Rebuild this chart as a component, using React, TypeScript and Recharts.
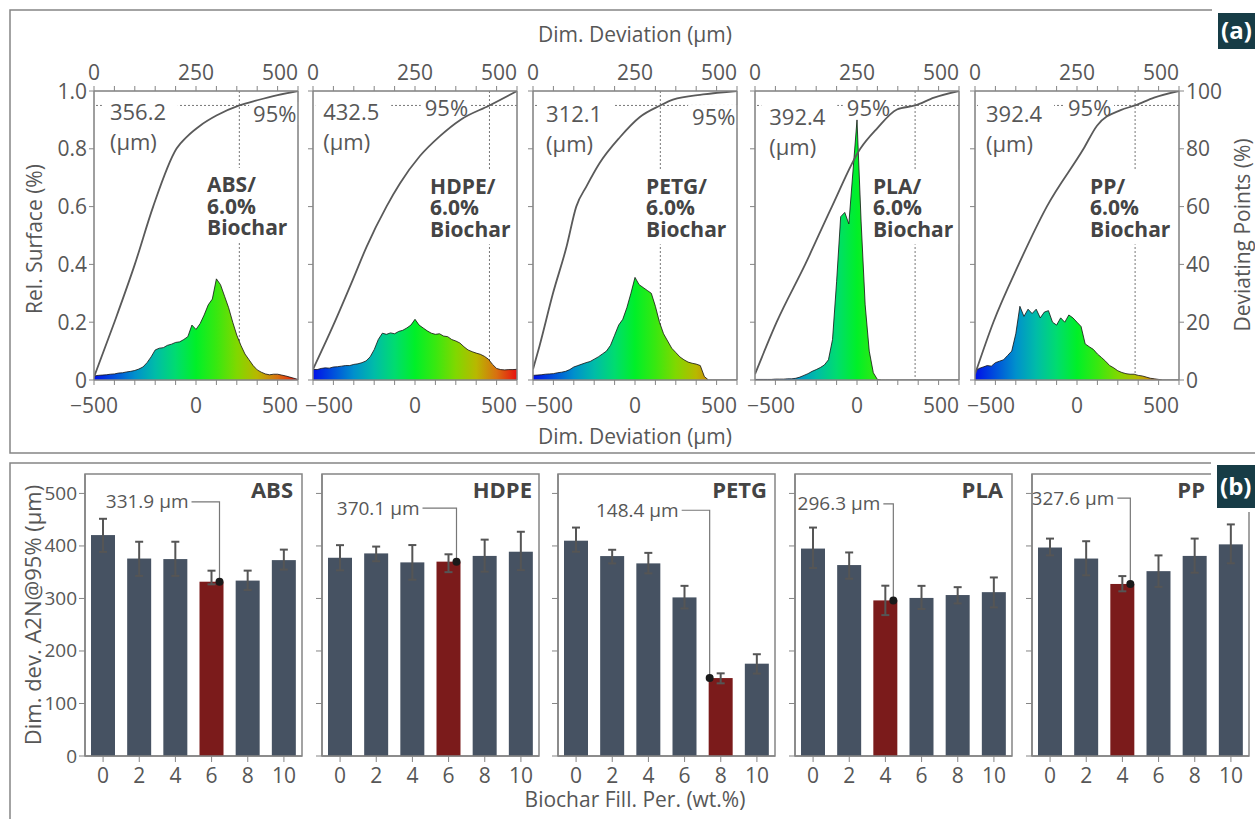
import React from "react";
import {
  Area,
  Bar,
  BarChart,
  CartesianGrid,
  ComposedChart,
  ErrorBar,
  Line,
  ReferenceArea,
  ReferenceDot,
  ReferenceLine,
  XAxis,
  YAxis,
} from "recharts";

const FONT = '"Open Sans", "Noto Sans", sans-serif';
const INK = "#575757";
const DARK = "#444";
const FRAME = "#858585";
const GRID = "#dadada";
const SLATE = "#465262";
const RED = "#7b1b1b";
const TAG_BG = "#173c46";

const MATERIALS = ["ABS", "HDPE", "PETG", "PLA", "PP"];
const BIOCHAR_SHARE = "6.0%";

// histogram bins (µm)
const DEV_BINS = [
  -500, -480, -460, -440, -420, -400, -380, -360, -340, -320, -300, -280, -260, -240, -220, -200, -180,
  -160, -140, -120, -100, -80, -60, -40, -20, 0, 20, 40, 60, 80, 100, 120, 140, 160, 180, 200, 220, 240,
  260, 280, 300, 320, 340, 360, 380, 400, 420, 440, 460, 480, 500,
];

// relative surface per bin (6.0% biochar)
const ABS_SURFACE = [
  0.014, 0.016, 0.017, 0.018, 0.02, 0.021, 0.024, 0.025, 0.028, 0.03, 0.033, 0.038, 0.045, 0.06, 0.08,
  0.104, 0.11, 0.112, 0.12, 0.124, 0.13, 0.132, 0.14, 0.15, 0.19, 0.175, 0.195, 0.225, 0.26, 0.28, 0.35,
  0.33, 0.29, 0.25, 0.2, 0.155, 0.12, 0.09, 0.07, 0.05, 0.035, 0.027, 0.021, 0.018, 0.02, 0.02, 0.017,
  0.014, 0.01, 0.006, 0.002,
];
const HDPE_SURFACE = [
  0.037, 0.036, 0.04, 0.042, 0.041, 0.045, 0.046, 0.048, 0.05, 0.05, 0.054, 0.056, 0.06, 0.066, 0.08,
  0.105, 0.14, 0.162, 0.158, 0.163, 0.16, 0.168, 0.172, 0.18, 0.19, 0.21, 0.19, 0.18, 0.17, 0.162, 0.158,
  0.16, 0.152, 0.15, 0.14, 0.135, 0.128, 0.115, 0.104, 0.098, 0.093, 0.089, 0.082, 0.072, 0.054, 0.04,
  0.036, 0.035, 0.036, 0.036, 0.037,
];
const PETG_SURFACE = [
  0.016, 0.017, 0.018, 0.02, 0.021, 0.022, 0.025, 0.027, 0.03, 0.036, 0.045, 0.05, 0.055, 0.06, 0.064,
  0.072, 0.08, 0.09, 0.1, 0.12, 0.155, 0.19, 0.21, 0.25, 0.3, 0.355, 0.33, 0.32, 0.31, 0.3, 0.255, 0.2,
  0.16, 0.135, 0.11, 0.095, 0.08, 0.07, 0.062, 0.058, 0.055, 0.05, 0.012, 0, 0, 0, 0, 0, 0, 0, 0,
];
const PLA_SURFACE = [
  0.002, 0.002, 0.002, 0.002, 0.002, 0.003, 0.003, 0.003, 0.004, 0.004, 0.006, 0.01, 0.016, 0.022, 0.03,
  0.036, 0.043, 0.052, 0.07, 0.14, 0.34, 0.565, 0.58, 0.54, 0.72, 0.9, 0.55, 0.26, 0.1, 0.025, 0.002, 0,
  0, 0, 0, 0, 0, 0, 0, 0, 0, 0, 0, 0, 0, 0, 0, 0, 0, 0, 0,
];
const PP_SURFACE = [
  0.03, 0.04, 0.045, 0.05, 0.048, 0.06, 0.065, 0.07, 0.085, 0.1, 0.16, 0.255, 0.22, 0.245, 0.23, 0.245,
  0.215, 0.235, 0.24, 0.2, 0.19, 0.215, 0.2, 0.225, 0.215, 0.2, 0.185, 0.125, 0.115, 0.106, 0.09, 0.078,
  0.065, 0.05, 0.042, 0.032, 0.026, 0.022, 0.02, 0.02, 0.016, 0.014, 0.01, 0.006, 0.004, 0.002, 0, 0, 0,
  0, 0,
];

// cumulative share of deviating points over |deviation|
const ABS_CUM_DEV = [0, 50, 100, 145, 202, 230, 260, 300, 356.2, 400, 450, 500];
const ABS_CUM_PCT = [1, 20, 40, 60, 80, 84.5, 88, 91.5, 95, 96.8, 98.6, 100];
const HDPE_CUM_DEV = [0, 49, 98, 131, 180, 213, 262, 311, 361, 432.5, 500];
const HDPE_CUM_PCT = [3.7, 18.7, 34.8, 46, 60, 68, 77.5, 84.4, 90, 95, 100];
const PETG_CUM_DEV = [0, 16, 49, 82, 106, 131, 163, 213, 262, 312.1, 343, 417, 500];
const PETG_CUM_PCT = [3.7, 11.8, 30, 46, 60, 67, 75, 84, 91, 95, 97, 98.8, 100];
const PLA_CUM_DEV = [0, 53, 123, 188.5, 258, 299, 348, 392.4, 439, 500];
const PLA_CUM_PCT = [2, 20, 40, 60, 80, 87, 93.6, 95, 97.7, 100];
const PP_CUM_DEV = [0, 45, 107, 176, 266, 299, 357, 392.4, 439, 500];
const PP_CUM_PCT = [2, 20, 40, 60, 80, 88, 93.4, 95, 97.7, 100];

const P95_DEV = [356.2, 432.5, 312.1, 392.4, 392.4];

// A2N deviation at 95% vs biochar filling
const FILL_LEVELS = ["0", "2", "4", "6", "8", "10"];
const ABS_DEV95 = [420.7, 376, 375, 331.9, 334, 373];
const ABS_ERR_LOW = [32, 33, 32, 5, 18, 18];
const ABS_ERR_HIGH = [31, 32, 33, 21, 19, 20];
const HDPE_DEV95 = [377.5, 385.8, 368.7, 370.1, 381, 389];
const HDPE_ERR_LOW = [24, 15, 33, 20, 30, 35];
const HDPE_ERR_HIGH = [24, 13, 33, 14, 31, 38];
const PETG_DEV95 = [410, 380.7, 366.8, 302, 148.4, 175.8];
const PETG_ERR_LOW = [21, 14, 19, 21, 10, 19];
const PETG_ERR_HIGH = [25, 12, 20, 22, 9, 18];
const PLA_DEV95 = [395, 363.6, 296.3, 301, 306.5, 312];
const PLA_ERR_LOW = [37, 26, 28, 21, 16, 29];
const PLA_ERR_HIGH = [40, 24, 28, 23, 15, 28];
const PP_DEV95 = [397, 376, 327.6, 352, 381, 403];
const PP_ERR_LOW = [15, 32, 14, 30, 32, 36];
const PP_ERR_HIGH = [17, 33, 15, 30, 33, 38];
const BEST_FILL = [3, 3, 4, 2, 2];

const TOP_TICKS = [0, 50, 100, 150, 200, 250, 300, 350, 400, 450, 500];
const BOTTOM_TICKS = [-500, -400, -300, -200, -100, 0, 100, 200, 300, 400, 500];
const SURF_TICKS = [0, 0.2, 0.4, 0.6, 0.8, 1];
const POINT_TICKS = [0, 20, 40, 60, 80, 100];
const DIM_TICKS = [0, 100, 200, 300, 400, 500];

const SURFACE = [ABS_SURFACE, HDPE_SURFACE, PETG_SURFACE, PLA_SURFACE, PP_SURFACE];
const CUM_DEV = [ABS_CUM_DEV, HDPE_CUM_DEV, PETG_CUM_DEV, PLA_CUM_DEV, PP_CUM_DEV];
const CUM_PCT = [ABS_CUM_PCT, HDPE_CUM_PCT, PETG_CUM_PCT, PLA_CUM_PCT, PP_CUM_PCT];
const DEV95 = [ABS_DEV95, HDPE_DEV95, PETG_DEV95, PLA_DEV95, PP_DEV95];
const ERR_LOW = [ABS_ERR_LOW, HDPE_ERR_LOW, PETG_ERR_LOW, PLA_ERR_LOW, PP_ERR_LOW];
const ERR_HIGH = [ABS_ERR_HIGH, HDPE_ERR_HIGH, PETG_ERR_HIGH, PLA_ERR_HIGH, PP_ERR_HIGH];

// layout
const SURF_LEFT = [94, 313, 533, 755, 975];
const SURF_TOP = 91;
const SURF_W = 204;
const SURF_H = 289;
const TOP_AXIS_H = 40;
const BOTTOM_AXIS_H = 45;
const LEFT_AXIS_W = 40;
const RIGHT_AXIS_W = 50;
// tag anchors in (top axis µm, right axis %)
const VALUE_TAG = [[39, 92.4], [25, 92.4], [32, 91.7], [35, 91], [27, 91.7]];
const PCT_TAG = [[390, 92], [274, 94.1], [390, 91], [225, 94.1], [228, 94.1]];
const NAME_TAG = [[277, 67.5], [287, 67], [277, 67], [289, 67], [282, 67]];

const FILL_LEFT = [85, 322, 558, 795, 1032];
const FILL_TOP = 474;
const FILL_W = 217;
const FILL_H = 282;
const DIM_MAX = 537;
// distance of the panel title's right end from the plot's right edge
const TITLE_INSET = [9, 7, 8, 9, 44];
const CALLOUT = [
  { level: 484, gap: 28, side: "right" },
  { level: 472, gap: 34, side: "right" },
  { level: 468, gap: 28, side: "left" },
  { level: 480, gap: 10, side: "right" },
  { level: 491, gap: 13, side: "right" },
];

const txt = { fontFamily: FONT, fill: INK };
const fmtDev = (v: number) => (v < 0 ? `\u2212${Math.abs(v)}` : `${v}`);

const topTick = (p: any) => {
  const v = p.payload.value;
  if (v % 250 !== 0) return <g />;
  return (
    <text x={p.x} y={p.y} dy={-4} textAnchor={v === 500 ? "end" : "middle"} fontSize={21} {...txt}>
      {v}
    </text>
  );
};

const bottomTick = (first: boolean) => (p: any) => {
  const v = p.payload.value;
  if (v % 500 !== 0) return <g />;
  let anchor = "middle";
  let x = p.x;
  if (v === 500) anchor = "end";
  if (v === -500 && !first) {
    anchor = "start";
    x = p.x - 8;
  }
  return (
    <text x={x} y={p.y} dy={26} textAnchor={anchor} fontSize={21} {...txt}>
      {fmtDev(v)}
    </text>
  );
};

const surfTick = (p: any) => (
  <text x={p.x} y={p.y} dy={7.5} textAnchor="end" fontSize={21} {...txt}>
    {p.payload.value === 0 ? "0" : p.payload.value.toFixed(1)}
  </text>
);

const pointTick = (p: any) => (
  <text x={p.x} y={p.y} dy={7.5} textAnchor="start" fontSize={21} {...txt}>
    {p.payload.value}
  </text>
);

const noTick = () => <g />;

const valueTag = (value: number) => (p: any) => (
  <g>
    <rect x={p.cx - 8} y={p.cy - 17} width={76} height={64} fill="#fff" />
    <text x={p.cx} y={p.cy} dy={7.5} fontSize={22} {...txt}>
      {value.toFixed(1)}
    </text>
    <text x={p.cx} y={p.cy + 30} dy={7.5} fontSize={22} {...txt}>
      (µm)
    </text>
  </g>
);

const pctTag = (p: any) => (
  <g>
    <rect x={p.cx - 4} y={p.cy - 12} width={50} height={23} fill="#fff" />
    <text x={p.cx} y={p.cy} dy={7.5} fontSize={22} {...txt}>
      95%
    </text>
  </g>
);

const nameTag = (name: string) => (p: any) => (
  <g>
    <rect x={p.cx - 6} y={p.cy - 17} width={92} height={75} fill="#fff" />
    {[`${name}/`, BIOCHAR_SHARE, "Biochar"].map((line, k) => (
      <text
        key={k}
        x={p.cx}
        y={p.cy + k * 21.5}
        dy={7.5}
        fontSize={21}
        fontWeight={700}
        fontFamily={FONT}
        fill={DARK}
      >
        {line}
      </text>
    ))}
  </g>
);

// the four axes of a surface panel; the hidden copy keeps the plot box identical
function surfAxes(visible: boolean, first: boolean, last: boolean) {
  const line = visible ? { stroke: FRAME, strokeWidth: 1.5 } : false;
  const tickLine = visible ? { stroke: FRAME } : false;
  return [
    <XAxis
      key="xb"
      xAxisId="bottom"
      type="number"
      dataKey="x"
      domain={[-500, 500]}
      allowDataOverflow
      ticks={BOTTOM_TICKS}
      interval={0}
      height={BOTTOM_AXIS_H}
      tickSize={5}
      axisLine={line}
      tickLine={tickLine}
      tick={visible ? bottomTick(first) : false}
    />,
    <XAxis
      key="xt"
      xAxisId="top"
      orientation="top"
      type="number"
      dataKey="d"
      domain={[0, 500]}
      allowDataOverflow
      ticks={TOP_TICKS}
      interval={0}
      height={TOP_AXIS_H}
      tickSize={5}
      axisLine={line}
      tickLine={tickLine}
      tick={visible ? topTick : false}
    />,
    <YAxis
      key="yl"
      yAxisId="left"
      type="number"
      domain={[0, 1]}
      allowDataOverflow
      ticks={SURF_TICKS}
      interval={0}
      width={LEFT_AXIS_W}
      tickSize={5}
      axisLine={line}
      tickLine={tickLine}
      tick={visible && first ? surfTick : visible ? noTick : false}
    />,
    <YAxis
      key="yr"
      yAxisId="right"
      orientation="right"
      type="number"
      domain={[0, 100]}
      allowDataOverflow
      ticks={POINT_TICKS}
      interval={0}
      width={RIGHT_AXIS_W}
      tickSize={5}
      axisLine={line}
      tickLine={visible && last ? { stroke: FRAME } : false}
      tick={visible && last ? pointTick : visible ? noTick : false}
    />,
  ];
}

function SurfaceChart({ i }: { i: number }) {
  const name = MATERIALS[i];
  const first = i === 0;
  const last = i === MATERIALS.length - 1;
  const hist = DEV_BINS.map((x, k) => ({ x, s: SURFACE[i][k] }));
  const cum = CUM_DEV[i].map((d, k) => ({ d, c: CUM_PCT[i][k] }));
  const gid = `surf-grad-${name}`;
  const w = LEFT_AXIS_W + SURF_W + RIGHT_AXIS_W;
  const h = TOP_AXIS_H + SURF_H + BOTTOM_AXIS_H;
  const margin = { top: 0, right: 0, bottom: 0, left: 0 };
  const layer: React.CSSProperties = { position: "absolute", left: 0, top: 0 };
  return (
    <div
      style={{
        position: "absolute",
        left: SURF_LEFT[i] - LEFT_AXIS_W,
        top: SURF_TOP - TOP_AXIS_H,
        width: w,
        height: h,
      }}
    >
      {/* back layer: grid, 95 % guides and text tags */}
      <div style={layer}>
        <ComposedChart width={w} height={h} margin={margin}>
          {surfAxes(false, first, last)}
          <CartesianGrid xAxisId="bottom" yAxisId="left" stroke={GRID} />
          <ReferenceLine xAxisId="top" yAxisId="right" y={95} stroke="#777" strokeDasharray="2 2" />
          <ReferenceLine
            xAxisId="top"
            yAxisId="right"
            x={P95_DEV[i]}
            stroke="#777"
            strokeDasharray="2 2"
          />
          <ReferenceDot
            xAxisId="top"
            yAxisId="right"
            x={VALUE_TAG[i][0]}
            y={VALUE_TAG[i][1]}
            shape={valueTag(P95_DEV[i])}
          />
          <ReferenceDot xAxisId="top" yAxisId="right" x={PCT_TAG[i][0]} y={PCT_TAG[i][1]} shape={pctTag} />
          <ReferenceDot
            xAxisId="top"
            yAxisId="right"
            x={NAME_TAG[i][0]}
            y={NAME_TAG[i][1]}
            shape={nameTag(name)}
          />
        </ComposedChart>
      </div>
      {/* front layer: histogram, cumulative curve and the axis frame */}
      <div style={layer}>
        <ComposedChart width={w} height={h} margin={margin}>
          <defs>
            <linearGradient id={gid} x1="0" y1="0" x2="1" y2="0">
              <stop offset="0%" stopColor="#0010e8" />
              <stop offset="10%" stopColor="#0050dc" />
              <stop offset="20%" stopColor="#0090cc" />
              <stop offset="30%" stopColor="#00bca8" />
              <stop offset="40%" stopColor="#00dc70" />
              <stop offset="50%" stopColor="#00f028" />
              <stop offset="60%" stopColor="#38e810" />
              <stop offset="70%" stopColor="#80d800" />
              <stop offset="80%" stopColor="#b8b800" />
              <stop offset="90%" stopColor="#d87010" />
              <stop offset="100%" stopColor="#e81010" />
            </linearGradient>
          </defs>
          {surfAxes(true, first, last)}
          <Area
            xAxisId="bottom"
            yAxisId="left"
            data={hist}
            dataKey="s"
            type="linear"
            fill={`url(#${gid})`}
            fillOpacity={1}
            stroke="#111"
            strokeWidth={0.8}
            isAnimationActive={false}
          />
          <Line
            xAxisId="top"
            yAxisId="right"
            data={cum}
            dataKey="c"
            type="monotone"
            stroke="#5a5a5a"
            strokeWidth={1.8}
            dot={false}
            isAnimationActive={false}
          />
        </ComposedChart>
      </div>
    </div>
  );
}

const fillTick = (p: any) => (
  <text x={p.x} y={p.y} dy={19} textAnchor="middle" fontSize={21} {...txt}>
    {p.payload.value}
  </text>
);

const dimTick = (p: any) => (
  <text x={p.x} y={p.y} dy={6.5} textAnchor="end" fontSize={19} {...txt}>
    {p.payload.value}
  </text>
);

// panel title, anchored on the last category at the top of the value axis
const panelTitle = (i: number, band: number) => (p: any) => (
  <text
    x={p.cx + band / 2 - TITLE_INSET[i]}
    y={p.cy + 24}
    textAnchor="end"
    fontSize={22}
    fontWeight={700}
    fontFamily={FONT}
    fill={DARK}
  >
    {MATERIALS[i]}
  </text>
);

const barShape = (i: number) => (p: any) => {
  const { x, y, width, height, payload } = p;
  const best = payload && payload.pct === FILL_LEVELS[BEST_FILL[i]];
  const rect = <rect x={x} y={y} width={width} height={height} fill={best ? RED : SLATE} />;
  if (!best) return rect;
  const c = CALLOUT[i];
  const perUnit = height / payload.dev;
  const ly = y + height - c.level * perUnit;
  const dx = c.side === "right" ? x + width - 4 : x + 1;
  return (
    <g>
      {rect}
      <polyline
        points={`${dx - c.gap},${ly} ${dx},${ly} ${dx},${y}`}
        fill="none"
        stroke="#777"
        strokeWidth={1.2}
      />
      <circle cx={dx} cy={y} r={4} fill="#1a1a1a" />
      <text x={dx - c.gap - 3} y={ly} dy={6.5} textAnchor="end" fontSize={19} {...txt}>
        {payload.dev.toFixed(1)} µm
      </text>
    </g>
  );
};

function FillChart({ i }: { i: number }) {
  const rows = FILL_LEVELS.map((pct, k) => ({
    pct,
    dev: DEV95[i][k],
    err: [ERR_LOW[i][k], ERR_HIGH[i][k]],
  }));
  const axisLine = { stroke: FRAME, strokeWidth: 1.5 };
  return (
    <div style={{ position: "absolute", left: FILL_LEFT[i] - 50, top: FILL_TOP - 4 }}>
      <BarChart
        width={50 + FILL_W + 6}
        height={4 + FILL_H + 34}
        data={rows}
        margin={{ top: 4, right: 6, bottom: 0, left: 0 }}
        barSize={24}
      >
        <XAxis
          dataKey="pct"
          height={34}
          interval={0}
          tickSize={6}
          axisLine={axisLine}
          tickLine={{ stroke: FRAME }}
          tick={fillTick}
        />
        <YAxis
          type="number"
          domain={[0, DIM_MAX]}
          allowDataOverflow
          ticks={DIM_TICKS}
          interval={0}
          width={50}
          tickSize={6}
          axisLine={axisLine}
          tickLine={{ stroke: FRAME }}
          tick={i === 0 ? dimTick : noTick}
        />
        <ReferenceArea y1={0} y2={DIM_MAX} fill="none" stroke={FRAME} strokeWidth={1.5} ifOverflow="visible" />
        <Bar dataKey="dev" isAnimationActive={false} shape={barShape(i)}>
          <ErrorBar dataKey="err" width={4} stroke="#555" strokeWidth={2} />
        </Bar>
        <ReferenceDot
          x={FILL_LEVELS[FILL_LEVELS.length - 1]}
          y={DIM_MAX}
          ifOverflow="visible"
          shape={panelTitle(i, FILL_W / FILL_LEVELS.length)}
        />
      </BarChart>
    </div>
  );
}

export default function App() {
  return (
    <div
      style={{
        position: "absolute",
        left: 0,
        top: 0,
        width: 1255,
        height: 819,
        overflow: "hidden",
        background: "#fff",
        fontFamily: FONT,
      }}
    >
      <svg width={1255} height={819} style={{ position: "absolute", left: 0, top: 0 }}>
        <path d="M1213 10 H10 V453 H1255" fill="none" stroke={FRAME} strokeWidth={1.5} />
        <path d="M1213 463 H10 V830" fill="none" stroke={FRAME} strokeWidth={1.5} />
        <text x={635} y={42} textAnchor="middle" fontSize={21} {...txt}>
          Dim. Deviation (µm)
        </text>
        <text x={635} y={444} textAnchor="middle" fontSize={21} {...txt}>
          Dim. Deviation (µm)
        </text>
        <text transform="translate(42,239) rotate(-90)" textAnchor="middle" fontSize={21} {...txt}>
          Rel. Surface (%)
        </text>
        <text transform="translate(1250,235) rotate(-90)" textAnchor="middle" fontSize={21} {...txt}>
          Deviating Points (%)
        </text>
        <text transform="translate(41,615) rotate(-90)" textAnchor="middle" fontSize={22} {...txt}>
          Dim. dev. A2N@95% (µm)
        </text>
        <text x={635} y={807} textAnchor="middle" fontSize={21} {...txt}>
          Biochar Fill. Per. (wt.%)
        </text>
      </svg>
      {MATERIALS.map((m, i) => (
        <SurfaceChart key={`s-${m}`} i={i} />
      ))}
      {MATERIALS.map((m, i) => (
        <FillChart key={`f-${m}`} i={i} />
      ))}
      <svg
        width={1255}
        height={819}
        style={{ position: "absolute", left: 0, top: 0, pointerEvents: "none" }}
      >
        <rect x={1212} y={4} width={50} height={50} fill="#fff" />
        <rect x={1218} y={13} width={40} height={36} fill={TAG_BG} />
        <text x={1221} y={39} fontSize={24} fontWeight={700} fontFamily={FONT} fill="#fff">
          (a)
        </text>
        <rect x={1211} y={459} width={50} height={53} fill="#fff" />
        <rect x={1217} y={465} width={40} height={43} fill={TAG_BG} />
        <text x={1220} y={495} fontSize={24} fontWeight={700} fontFamily={FONT} fill="#fff">
          (b)
        </text>
      </svg>
    </div>
  );
}
